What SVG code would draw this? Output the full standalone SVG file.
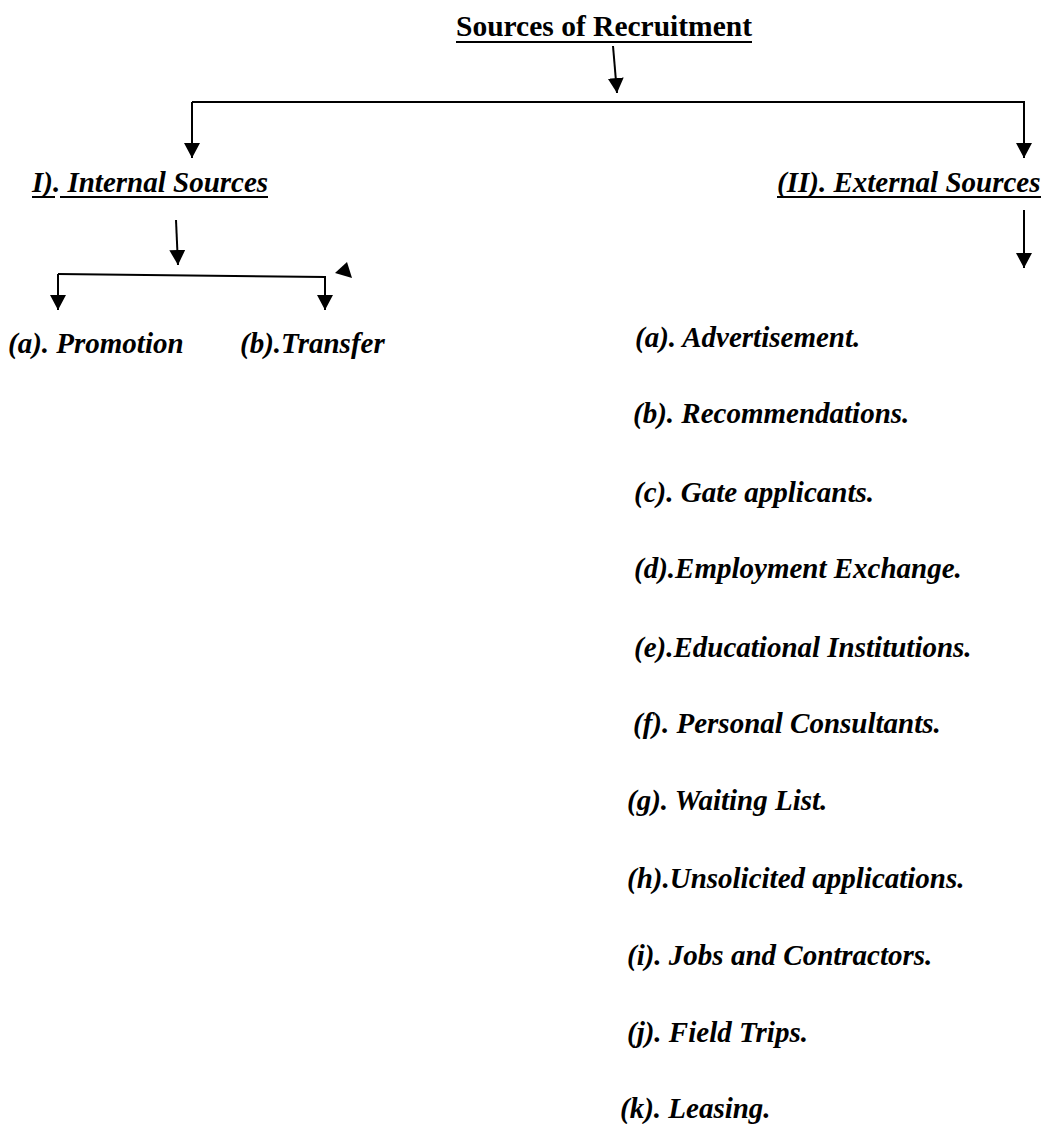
<svg xmlns="http://www.w3.org/2000/svg" width="1042" height="1124" viewBox="0 0 1042 1124">
<defs>
<marker id="ah" viewBox="0 0 15 16" refX="15" refY="8" markerWidth="15" markerHeight="16" markerUnits="userSpaceOnUse" orient="auto">
<path d="M0,0 L15,8 L0,16 z" fill="#000"/>
</marker>
<style>
.t{font-family:"Liberation Serif","Times New Roman",serif;font-size:29px;font-weight:bold;fill:#000}
.i{font-style:italic}
.ul{stroke:#000;stroke-width:2}
.c{fill:none;stroke:#000;stroke-width:2}
.a{marker-end:url(#ah)}
</style>
</defs>
<rect width="1042" height="1124" fill="#fff"/>
<g id="title">
<text class="t" x="456" y="36" textLength="296" lengthAdjust="spacingAndGlyphs">Sources of Recruitment</text>
<line class="ul" x1="456" y1="42" x2="752" y2="42"/>
</g>
<g id="internal">
<text class="t i" x="32" y="192">I). Internal Sources</text>
<line class="ul" x1="32" y1="197" x2="55" y2="197"/>
<line class="ul" x1="60" y1="197" x2="268" y2="197"/>
</g>
<g id="external">
<text class="t i" x="777" y="192">(II). External Sources</text>
<line class="ul" x1="777" y1="197" x2="1041" y2="197"/>
</g>
<g id="promotion"><text class="t i" x="8" y="353">(a). Promotion</text></g>
<g id="transfer"><text class="t i" x="240" y="353">(b).Transfer</text></g>
<g id="ext-a"><text class="t i" x="635" y="347">(a). Advertisement.</text></g>
<g id="ext-b"><text class="t i" x="633" y="423">(b). Recommendations.</text></g>
<g id="ext-c"><text class="t i" x="634" y="502">(c). Gate applicants.</text></g>
<g id="ext-d"><text class="t i" x="634" y="578">(d).Employment Exchange.</text></g>
<g id="ext-e"><text class="t i" x="634" y="657">(e).Educational Institutions.</text></g>
<g id="ext-f"><text class="t i" x="633" y="733">(f). Personal Consultants.</text></g>
<g id="ext-g"><text class="t i" x="627" y="810">(g). Waiting List.</text></g>
<g id="ext-h"><text class="t i" x="627" y="888">(h).Unsolicited applications.</text></g>
<g id="ext-i"><text class="t i" x="627" y="965">(i). Jobs and Contractors.</text></g>
<g id="ext-j"><text class="t i" x="627" y="1042">(j). Field Trips.</text></g>
<g id="ext-k"><text class="t i" x="620" y="1118">(k). Leasing.</text></g>
<g id="connectors">
<path class="c a" d="M613,46 L617,93"/>
<path class="c a" d="M192,102 L192,158"/>
<path class="c a" d="M192,102 L1024,102 L1024,158"/>
<path class="c a" d="M176,220 L178,265"/>
<path class="c a" d="M58,274 L58,310"/>
<path class="c a" d="M58,274 L325,277 L325,310"/>
<path class="c a" d="M1024,210 L1024,268"/>
<polygon points="335,273 347,262 352,278" fill="#000"/>
</g>
</svg>
